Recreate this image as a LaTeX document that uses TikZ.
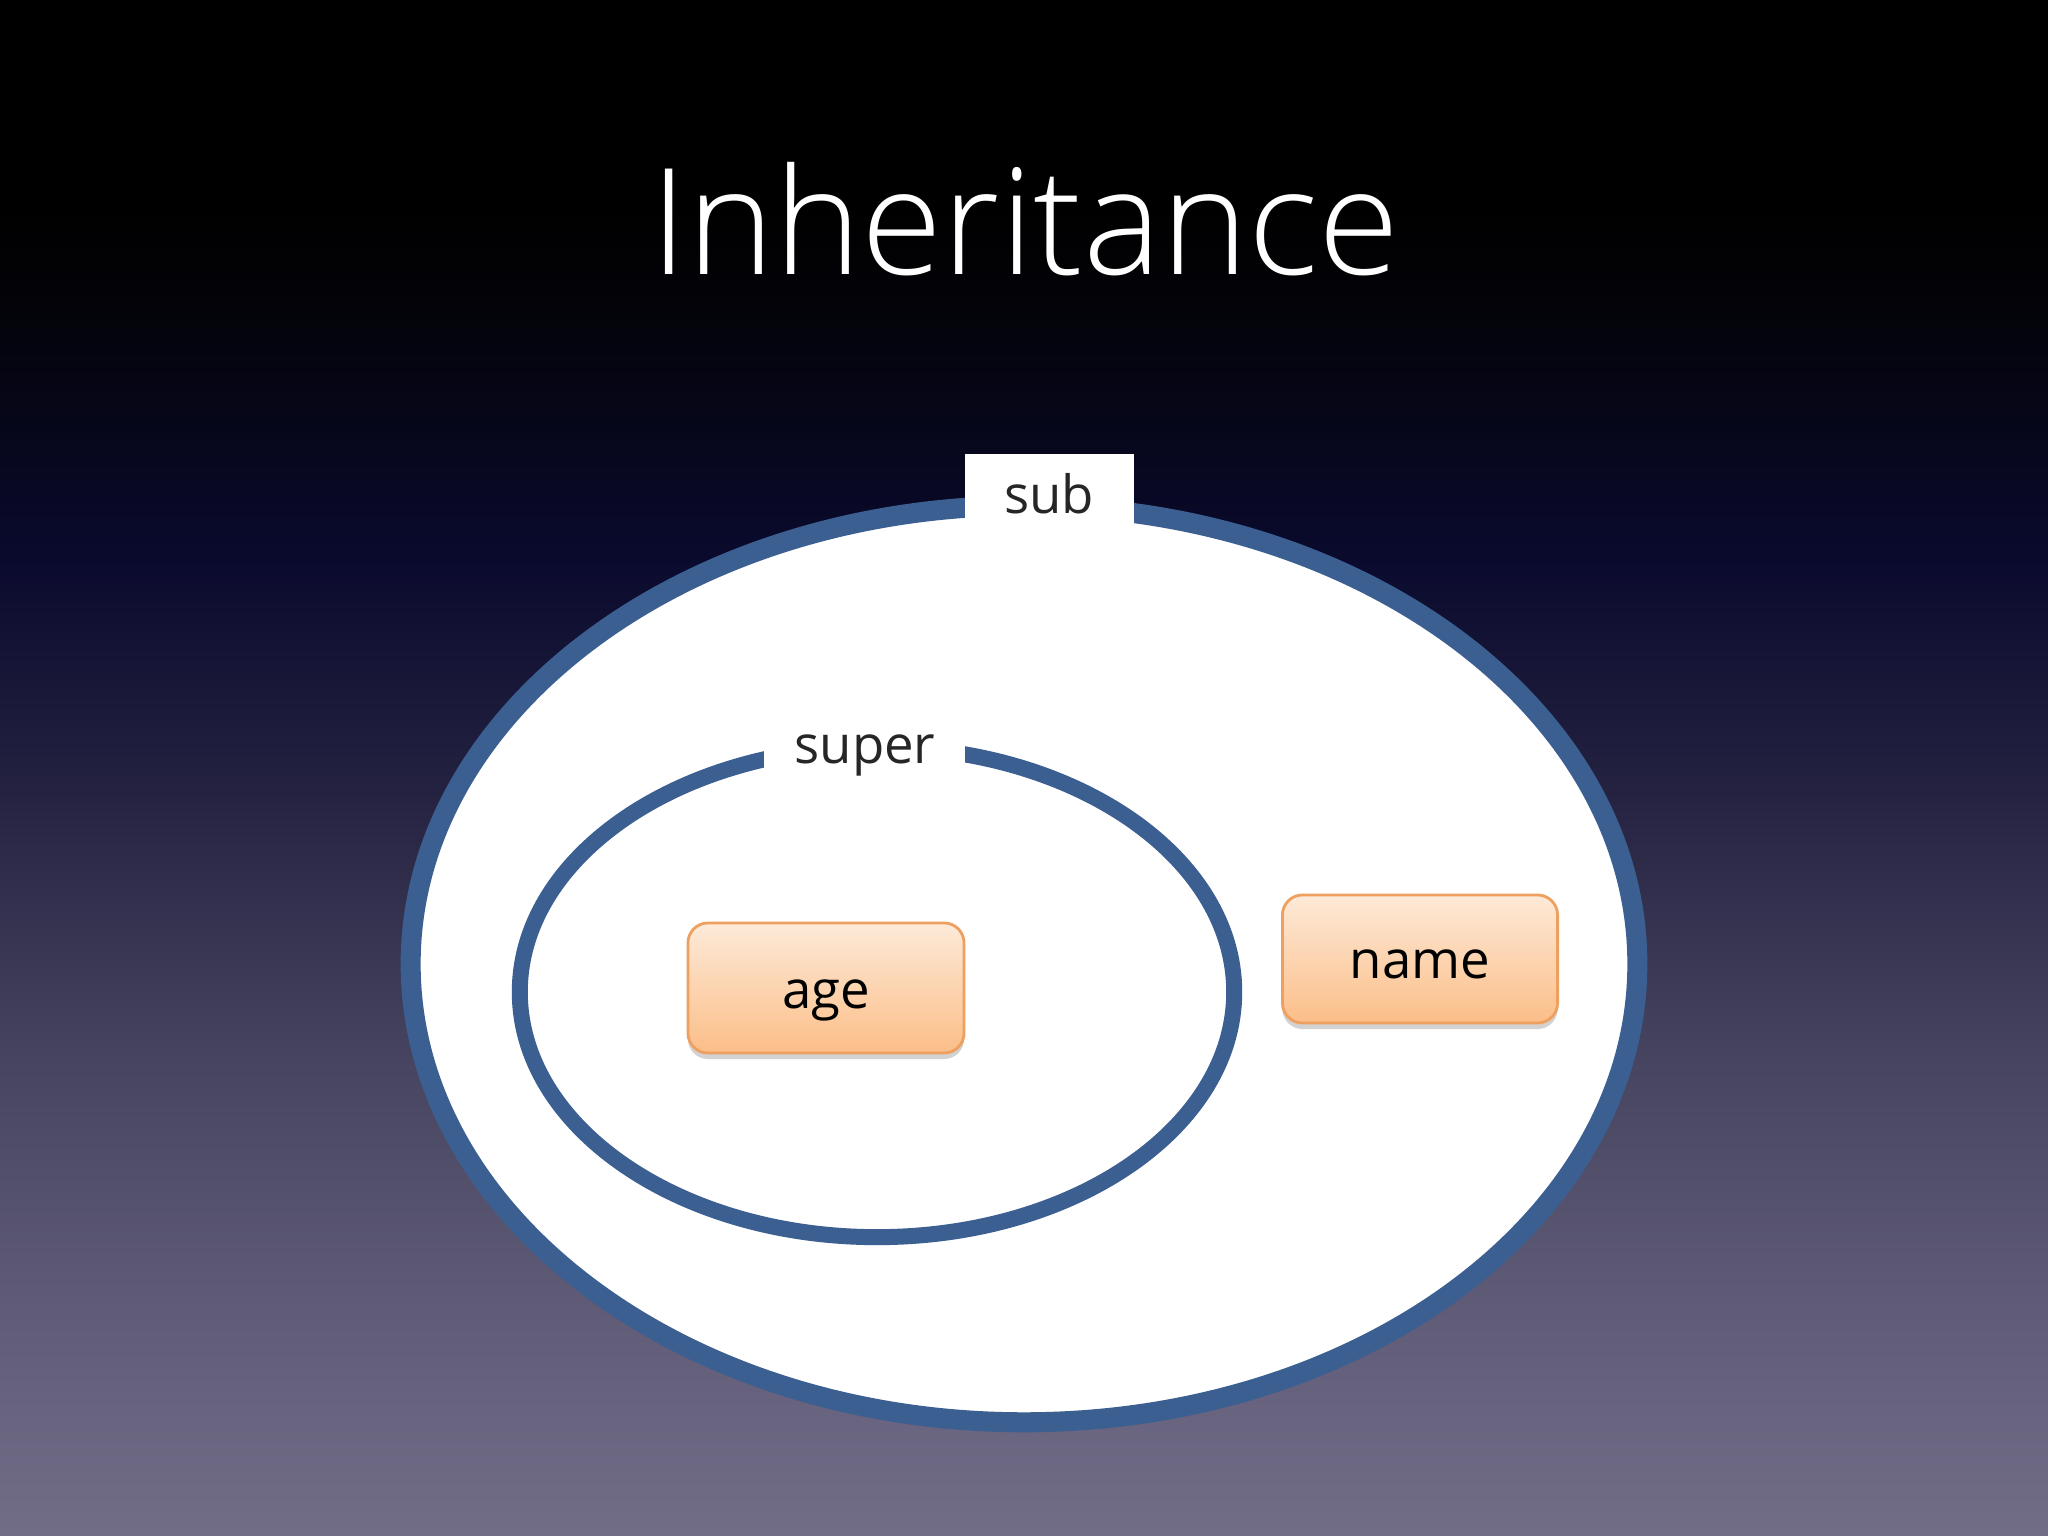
\documentclass[tikz,border=0pt]{standalone}
\usepackage{fontspec}
\setmainfont{Open Sans}
\newfontfamily\titlefont{Open Sans Light}
\usetikzlibrary{shapes.geometric,shadows}
\definecolor{ringblue}{RGB}{60,95,145}
\definecolor{boxedge}{RGB}{238,160,96}
\definecolor{boxtop}{RGB}{253,234,216}
\definecolor{boxbot}{RGB}{251,190,136}
\definecolor{bg0}{RGB}{0,0,0}
\definecolor{bg1}{RGB}{3,3,8}
\definecolor{bg2}{RGB}{10,10,46}
\definecolor{bg3}{RGB}{37,35,65}
\definecolor{bg4}{RGB}{69,67,95}
\definecolor{bg5}{RGB}{95,91,119}
\definecolor{bg6}{RGB}{114,109,135}
\tikzset{
  ring/.style={ellipse, draw=ringblue, fill=white, inner sep=0pt},
  fieldbox/.style={draw=boxedge, line width=0.8pt, rounded corners=0.2cm,
    top color=boxtop, bottom color=boxbot, inner sep=0pt,
    drop shadow={shadow xshift=0cm, shadow yshift=-0.06cm, opacity=0.25, fill=black!70},
    font=\fontsize{15}{18}\selectfont, text=black},
  tag/.style={fill=white, inner sep=0pt, font=\fontsize{15}{18}\selectfont, text=black!85}
}
\begin{document}
\begin{tikzpicture}[x=0.01cm,y=-0.01cm]
\useasboundingbox (0,0) rectangle (2048,1536);
% background
\fill[bg0] (0,0) rectangle (2048,200);
\shade[top color=bg0, bottom color=bg1] (0,199) rectangle (2048,300);
\shade[top color=bg1, bottom color=bg2] (0,299) rectangle (2048,560);
\shade[top color=bg2, bottom color=bg3] (0,559) rectangle (2048,800);
\shade[top color=bg3, bottom color=bg4] (0,799) rectangle (2048,1050);
\shade[top color=bg4, bottom color=bg5] (0,1049) rectangle (2048,1300);
\shade[top color=bg5, bottom color=bg6] (0,1299) rectangle (2048,1536);
% title
\node[anchor=base, text=white, font=\titlefont\fontsize{42}{50}\selectfont, inner sep=0pt] (title) at (1025,274) {Inheritance};
% outer ring
\node[ring, line width=0.2cm, minimum width=12.26cm, minimum height=9.16cm] (outer) at (1024,964) {};
\node[tag, minimum width=1.69cm, minimum height=0.85cm, text depth=0pt] (sublbl) at (1049.5,497) {};
\node[tag, anchor=base, fill=none] (subtxt) at (1049,513) {sub};
% inner ring
\node[ring, line width=0.16cm, minimum width=7.14cm, minimum height=4.90cm] (inner) at (877,992) {};
\node[tag, minimum width=2.01cm, minimum height=0.5cm] (superlbl) at (864.5,748) {};
\node[tag, anchor=base, fill=none] (supertxt) at (865,763) {super};
% fields
\node[fieldbox, minimum width=2.76cm, minimum height=1.30cm] (age) at (826,988) {};
\node[anchor=base, font=\fontsize{15}{18}\selectfont, inner sep=0pt] (agetxt) at (826,1008) {age};
\node[fieldbox, minimum width=2.75cm, minimum height=1.28cm] (name) at (1420,959) {};
\node[anchor=base, font=\fontsize{15}{18}\selectfont, inner sep=0pt] (nametxt) at (1420,978) {name};
\end{tikzpicture}
\end{document}
